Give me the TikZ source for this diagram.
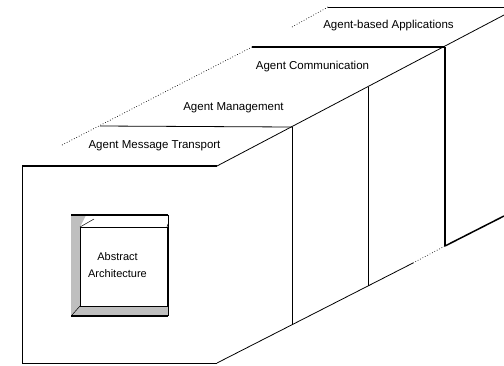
\documentclass[tikz,border=0pt]{standalone}
\usepackage{fontspec}
\setmainfont{Liberation Sans}
\begin{document}
\begin{tikzpicture}[x=1pt,y=-1pt,
  thinline/.style={line width=0.8pt,black},
  thickline/.style={line width=1.8pt,black},
  dotline/.style={line width=0.7pt,black,dotted},
  lbl/.style={inner sep=0pt,font=\fontsize{11.5}{13}\selectfont},
  blocklbl/.style={inner sep=0pt,align=center,font=\fontsize{11}{17}\selectfont}]
\useasboundingbox (0,0) rectangle (504,365);
% key points
\coordinate (FTL) at (22,166);
\coordinate (FTR) at (217,166);
\coordinate (FBL) at (22,363);
\coordinate (FBR) at (217,363);
\coordinate (T1) at (292,127);
\coordinate (T2) at (368,87);
\coordinate (T3) at (445,47);
\coordinate (TE) at (504,15);
\coordinate (B1) at (292,325);
\coordinate (B2) at (368,286);
\coordinate (BD) at (413,263);
\coordinate (B3) at (445,246);
\coordinate (BE) at (504,216);
\coordinate (L1) at (62,145);
\coordinate (L2) at (100,126);
\coordinate (L3) at (252,47);
\coordinate (U1) at (292,27);
\coordinate (U2) at (328,7);
\coordinate (UE) at (504,7);
% front face
\draw[thinline] (FTL) -- (FBL) -- (FBR);
\draw[thickline] (FTL) -- (FTR);
% right diagonals
\draw[thinline] (FTR) -- (TE);
\draw[thinline] (FBR) -- (BD);
\draw[dotline] (BD) -- (B3);
\draw[thickline,line width=1.5pt] (B3) -- (BE);
% verticals
\draw[thinline] (T1) -- (B1);
\draw[thinline] (T2) -- (B2);
\draw[thickline,line width=1.5pt] (T3) -- (B3);
% back edges
\draw[thinline] (L2) -- (T1);
\draw[dotline] (L1) -- (L3);
\draw[thickline] (L3) -- (T3);
\draw[dotline] (U1) -- (U2);
\draw[thinline] (U2) -- (UE);
% labels
\node[lbl] (amt) at (154.5,146) {Agent Message Transport};
\node[lbl] (am) at (233.5,108) {Agent Management};
\node[lbl] (ac) at (312.5,67) {Agent Communication};
\node[lbl] (aba) at (388.5,26) {Agent-based Applications};
% abstract architecture block
\coordinate (OTL) at (71,215);
\coordinate (OTR) at (168,215);
\coordinate (OBL) at (71,316);
\coordinate (OBR) at (168,316);
\coordinate (ITL) at (80,227);
\coordinate (ITR) at (167,227);
\coordinate (IBL) at (80,306);
\coordinate (IBR) at (167,306);
\fill[gray!50] (OTL) -- (86,215) -- (ITL) -- (IBL) -- (IBR) -- (168,300) -- (OBR) -- (OBL) -- cycle;
\draw[line width=0.6pt] (ITL) rectangle (IBR);
\draw[line width=0.5pt] (ITL) -- (94,219);
\draw[line width=0.5pt] (ITR) -- (168,224);
\draw[line width=0.5pt] (IBL) -- (72,315);
\draw[line width=0.5pt] (IBR) -- (162,306);
\draw[thinline] (OTR) -- (OBR);
\draw[thickline,line width=1.5pt] (OTL) -- (OTR);
\draw[thickline,line width=1.5pt] (OBL) -- (OBR);
\node[blocklbl] (aa) at (117.5,265.5) {Abstract\\Architecture};
\end{tikzpicture}
\end{document}
